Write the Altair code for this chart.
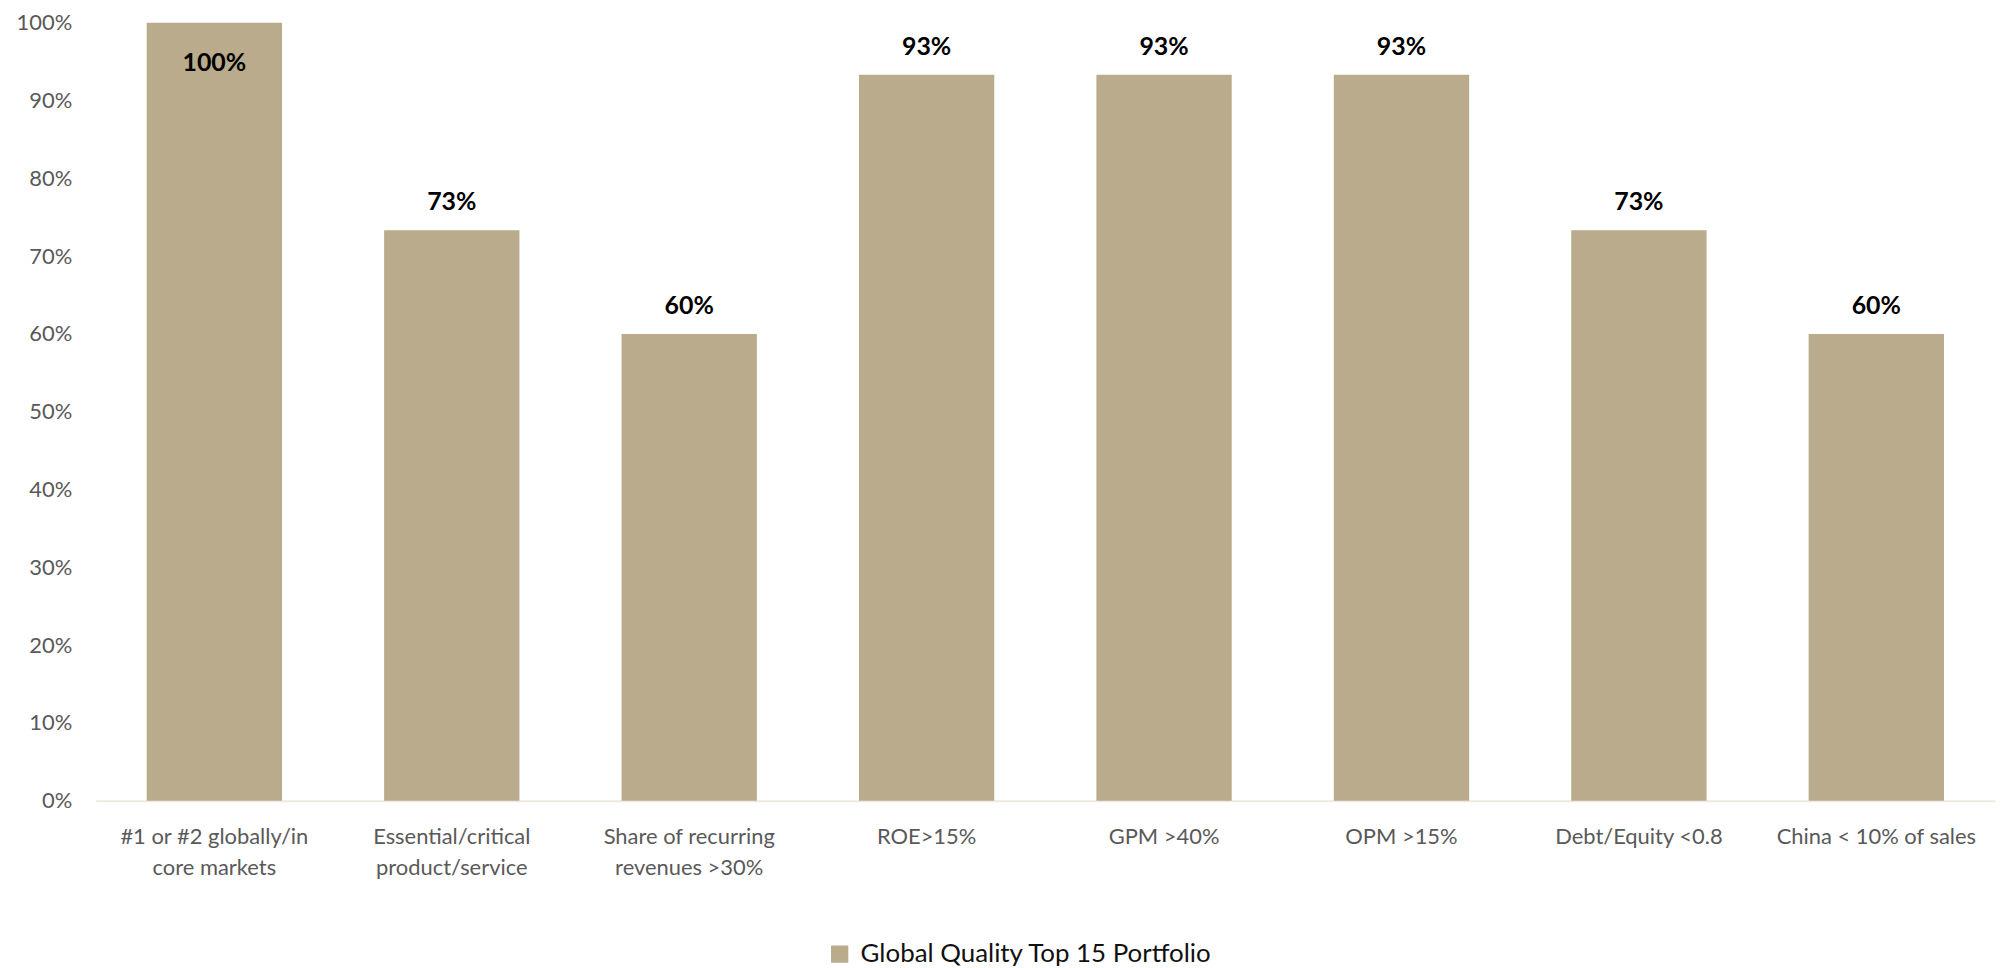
import altair as alt
import pandas as pd

categories = [
    "#1 or #2 globally/in|core markets",
    "Essential/critical|product/service",
    "Share of recurring|revenues >30%",
    "ROE>15%",
    "GPM >40%",
    "OPM >15%",
    "Debt/Equity <0.8",
    "China < 10% of sales",
]
values = [1.0, 0.7333, 0.60, 0.9333, 0.9333, 0.9333, 0.7333, 0.60]
value_labels = ["100%", "73%", "60%", "93%", "93%", "93%", "73%", "60%"]
series_name = "Global Quality Top 15 Portfolio"

df = pd.DataFrame({
    "category": categories,
    "value": values,
    "label": value_labels,
    "series": [series_name] * len(categories),
})

BAR = "#B9AB8B"
FONT = "Lato"

x_enc = alt.X(
    "category:N",
    sort=categories,
    title=None,
    scale=alt.Scale(paddingInner=0.43, paddingOuter=0.215),
    axis=alt.Axis(
        labelExpr="split(datum.label, '|')",
        labelAngle=0,
        labelFont=FONT,
        labelFontSize=22,
        labelColor="#595959",
        labelLineHeight=31,
        labelPadding=26,
        labelBaseline="top",
        ticks=False,
        domainColor="#EEEAE1",
        domainWidth=2,
        grid=False,
        labelLimit=400,
    ),
)

bars = alt.Chart(df).mark_bar(color=BAR).encode(
    x=x_enc,
    y=alt.Y(
        "value:Q",
        title=None,
        scale=alt.Scale(domain=[0, 1], nice=False),
        axis=alt.Axis(
            format=".0%",
            values=[i / 10 for i in range(11)],
            labelFont=FONT,
            labelFontSize=22,
            labelColor="#595959",
            labelPadding=24,
            ticks=False,
            domain=False,
            grid=False,
        ),
    ),
    color=alt.Color(
        "series:N",
        title=None,
        scale=alt.Scale(range=[BAR]),
        legend=alt.Legend(
            orient="none",
            legendX=734,
            legendY=922,
            symbolType="square",
            symbolSize=300,
            symbolStrokeWidth=0,
            labelFont=FONT,
            labelFontSize=26,
            labelColor="#111111",
            labelLimit=600,
            labelOffset=8,
        ),
    ),
)

texts = alt.Chart(df).transform_calculate(
    pos="datum.value >= 0.99 ? datum.value - 0.087 : datum.value"
).mark_text(
    font=FONT, fontSize=25, fontWeight="bold", color="#000000",
    baseline="alphabetic", dy=-20,
).encode(
    x=alt.X("category:N", sort=categories),
    y=alt.Y("pos:Q"),
    text="label:N",
)

chart = alt.layer(bars, texts).properties(
    width=1907,
    height=781,
    autosize=alt.AutoSizeParams(type="none"),
    padding={"left": 88, "top": 13, "right": 6, "bottom": 166},
).configure_view(stroke=None)

chart.save("out.html", embed_options={"renderer": "svg", "actions": False})
